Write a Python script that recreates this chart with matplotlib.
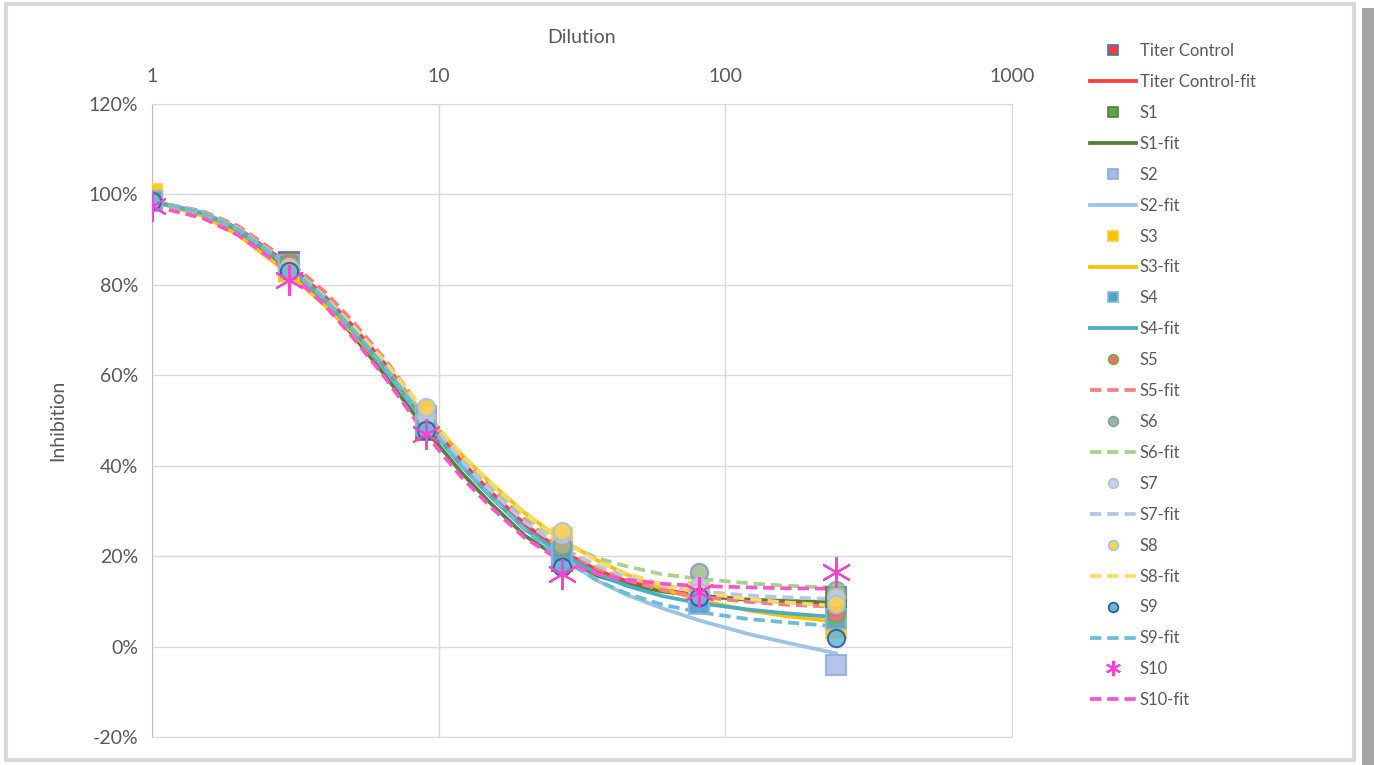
import numpy as np
import matplotlib
matplotlib.use("Agg")
import matplotlib.pyplot as plt
from matplotlib.lines import Line2D
from matplotlib.patches import Rectangle

plt.rcParams['font.family'] = ['Lato', 'DejaVu Sans']

# Dilution points and measured inhibition (%)
dilution = [1, 3, 9, 27, 81, 243]
names = ["Titer Control", "S1", "S2", "S3", "S4", "S5", "S6", "S7", "S8", "S9", "S10"]

titer_pts = [98.5, 85, 50, 20, 11, 8]
s1_pts = [98.5, 83, 48, 19, 11, 11]
s2_pts = [98.5, 84, 49, 20, 10, -4]
s3_pts = [100, 83, 51, 24, 12, 4]
s4_pts = [98.5, 84.5, 51, 21, 9.5, 6]
s5_pts = [98.5, 85, 52, 22, 12.5, 7.5]
s6_pts = [98.5, 84, 52.5, 22.5, 16.5, 12.5]
s7_pts = [98.5, 84, 51, 25, 13.5, 11]
s8_pts = [98.5, 84, 53, 25.5, 12, 9.5]
s9_pts = [98.5, 83, 48, 17.5, 11, 2]
s10_pts = [97.5, 81, 47, 16, 12, 16.5]

# fitted curves
fit_x = [1, 1.5, 2, 3, 4, 5, 6.5, 9, 12, 15, 20, 27, 36, 45, 60, 81, 120, 160, 243]
titer_fit = [98.5, 96, 92.5, 84.5, 77.5, 71, 62.5, 50.5, 41, 34.5, 27, 21, 16.8, 14.5, 12.6, 11.3, 10.3, 9.9, 9.5]
s1_fit = [98.5, 95.8, 92, 83.5, 76, 69, 60, 48, 38.5, 32, 24.5, 19.2, 15.6, 13.8, 12.2, 11.2, 10.4, 10.1, 9.8]
s2_fit = [98.5, 96, 92.3, 84, 76.8, 70, 61.5, 49.5, 40, 33.5, 26, 19.5, 14.5, 11.5, 8.5, 5.8, 2.8, 1, -1.5]
s3_fit = [98.5, 95.3, 91, 82.5, 75.5, 69.5, 61.5, 51, 42.5, 36.5, 29.5, 23.5, 19, 16, 12.8, 10.3, 8, 6.8, 5.5]
s4_fit = [98.5, 95.8, 92.2, 84, 76.8, 70, 61.5, 49.5, 40, 33.5, 26, 20.5, 16, 13.5, 11.2, 9.6, 8.2, 7.4, 6.5]
s5_fit = [98.5, 96.3, 93, 85.2, 78.5, 72, 63.5, 51.5, 42, 35.5, 28, 21.5, 17.2, 14.8, 12.5, 11, 9.9, 9.3, 8.8]
s6_fit = [98.5, 96, 92.5, 84.5, 77.5, 71, 62.8, 51.3, 42, 36, 28.8, 23, 19.5, 17.8, 16, 15, 14, 13.5, 13]
s7_fit = [98.5, 96, 92.3, 84, 77, 70.5, 62, 50.5, 41, 34.8, 27.5, 21.8, 17.8, 15.5, 13.5, 12.2, 11.3, 10.9, 10.5]
s8_fit = [98.5, 96, 92.3, 84, 77.2, 71, 63, 51.8, 42.5, 36.5, 29.3, 23.5, 18.8, 16.2, 13.8, 12, 10.5, 9.8, 9]
s9_fit = [98.5, 96, 92.3, 84, 77, 70.3, 61.8, 49.8, 40, 33.5, 25.8, 19.3, 14.5, 11.8, 9.3, 7.6, 6.1, 5.4, 4.5]
s10_fit = [97.5, 94.8, 91, 83, 75.5, 68.5, 59.5, 47, 37.5, 31.2, 24, 18.8, 16, 14.8, 13.9, 13.4, 13.1, 12.9, 12.8]

yticks = [-20, 0, 20, 40, 60, 80, 100, 120]
xticks = [1, 10, 100, 1000]

pts = [titer_pts, s1_pts, s2_pts, s3_pts, s4_pts, s5_pts, s6_pts, s7_pts, s8_pts, s9_pts, s10_pts]
fits = [titer_fit, s1_fit, s2_fit, s3_fit, s4_fit, s5_fit, s6_fit, s7_fit, s8_fit, s9_fit, s10_fit]

# (marker, face, edge, line colour, dashed)
S10_MARK = (6, 2, 0)
styles = [
    ('s', '#FF3B3B', '#4472C4', '#FF3B3B', False),
    ('s', '#6E9B52', '#548235', '#548235', False),
    ('s', '#A6BCE6', '#8FAADC', '#9DC3E6', False),
    ('s', '#FFC000', '#FFCC40', '#FFC000', False),
    ('s', '#4BA6C8', '#8EB4E3', '#4BACC6', False),
    ('o', '#F07070', '#70AD47', '#FF7C80', True),
    ('o', '#9DBB86', '#7A9BD3', '#A9D18E', True),
    ('o', '#BFD0F0', '#BFBFBF', '#B4C7E7', True),
    ('o', '#FFD24D', '#9DC3E6', '#FFD966', True),
    ('o', '#60B8D8', '#2F5597', '#6BBCD8', True),
    (S10_MARK, '#FF40D0', '#FF40D0', '#FF55CC', True),
]

fig = plt.figure(figsize=(13.74, 7.65), dpi=100)
ax = fig.add_axes([152/1374, 28/765, 860/1374, 633/765])

for f, st in zip(fits, styles):
    ls = (0, (3, 1.6)) if st[4] else '-'
    ax.plot(fit_x, f, color=st[3], lw=2.7, ls=ls, zorder=2)

for p, st in zip(pts, styles):
    m = st[0]
    if m == S10_MARK:
        ax.plot(dilution, p, ls='none', marker=m, ms=22, color=st[1], mew=1.5, zorder=4)
    else:
        ms = 15 if m == 's' else 12.5
        ax.plot(dilution, p, ls='none', marker=m, ms=ms, mfc=st[1], mec=st[2],
                mew=1.5, alpha=0.85, zorder=3)

ax.set_xscale('log')
ax.set_xlim(1, 1000)
ax.set_ylim(-20, 120)
ax.set_xticks(xticks)
ax.set_xticklabels([str(v) for v in xticks])
ax.minorticks_off()
ax.xaxis.tick_top()
ax.xaxis.set_label_position('top')
ax.set_yticks(yticks)
ax.set_yticklabels([f"{v}%" for v in yticks])
ax.tick_params(length=0, labelsize=14, colors='#595959', pad=10)
ax.tick_params(axis='x', pad=14)
ax.grid(True, color='#D9D9D9', lw=1)
ax.set_axisbelow(True)
for s in ax.spines.values():
    s.set_color('#D9D9D9')
ax.spines['left'].set_color('#BFBFBF')
ax.set_xlabel('Dilution', fontsize=14, color='#595959', labelpad=18)
ax.set_ylabel('Inhibition', fontsize=14, color='#595959', labelpad=16)

handles = []
labels = []
for n, st in zip(names, styles):
    m = st[0]
    if m == S10_MARK:
        handles.append(Line2D([], [], ls='none', marker=m, ms=11, color=st[1], mew=1.5))
    else:
        handles.append(Line2D([], [], ls='none', marker=m, ms=7, mfc=st[1], mec=st[2], mew=1.2))
    labels.append(n)
    ls = (0, (3, 1.6)) if st[4] else '-'
    handles.append(Line2D([], [], color=st[3], lw=2.7, ls=ls))
    labels.append(n + "-fit")

leg = fig.legend(handles, labels, loc='upper left', bbox_to_anchor=(1090/1374, 1 - 43/765),
                 frameon=False, fontsize=12, handlelength=2.75, handletextpad=0.25,
                 labelspacing=0.895, borderpad=0, borderaxespad=0)
for t in leg.get_texts():
    t.set_color('#595959')

# chart frame and shadow
fig.patches.append(Rectangle((6/1374, 5/765), 1348/1374, 756/765, transform=fig.transFigure,
                             fill=False, edgecolor='#D9D9D9', lw=3, zorder=0))
fig.patches.append(Rectangle((1362/1374, 0), 12/1374, 757/765, transform=fig.transFigure,
                             facecolor='#A6A6A6', edgecolor='none', zorder=0))

fig.savefig('out.png', dpi=100)
